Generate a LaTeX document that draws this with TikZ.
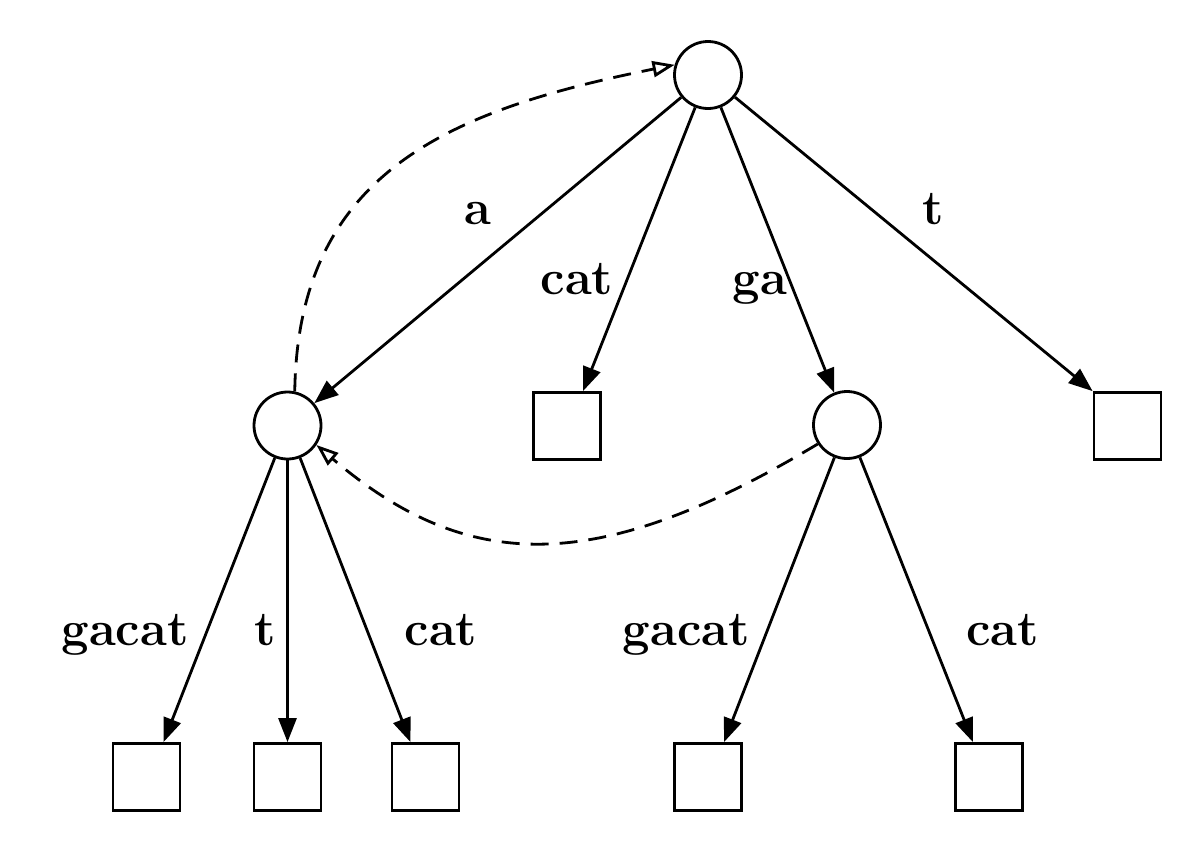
\documentclass[tikz,border=0pt]{standalone}
\usetikzlibrary{arrows.meta,calc}
\begin{document}
\begin{tikzpicture}[x=1pt,y=-1pt,
  inner/.style={circle,draw,line width=2.8pt,minimum size=67pt,inner sep=0pt},
  leaf/.style={rectangle,draw,line width=2.8pt,minimum size=67pt,inner sep=0pt},
  edge/.style={line width=2.8pt,-{Triangle[length=24pt,width=18pt]}},
  link/.style={line width=2.8pt,dash pattern=on 18pt off 11pt,-{Triangle[open,length=22pt,width=16pt]}},
  lbl/.style={anchor=base,inner sep=0pt,font=\fontsize{49}{54}\selectfont\bfseries}]
\useasboundingbox (0,0) rectangle (1200,849);
\fill[white] (0,0) rectangle (1200,849);
% nodes
\node[inner] (root) at (708,75) {};
\node[inner] (lc) at (287.5,425.5) {};
\node[inner] (mc) at (847,425) {};
\node[leaf] (sqcat) at (567,426) {};
\node[leaf] (sqt) at (1127.5,426) {};
\node[leaf] (b1) at (146.5,777) {};
\node[leaf] (b2) at (287.5,777) {};
\node[leaf] (b3) at (425.5,777) {};
\node[leaf] (b4) at (708,777) {};
\node[leaf] (b5) at (989,777) {};
% edges
\draw[edge] (root) -- (lc);
\draw[edge] (root) -- ($(sqcat.north)+(16,0)$);
\draw[edge] (root) -- (mc);
\draw[edge] (root) -- (sqt.north west);
\draw[edge] (lc) -- ($(b1.north)+(17,0)$);
\draw[edge] (lc) -- (b2.north);
\draw[edge] (lc) -- ($(b3.north)+(-15,0)$);
\draw[edge] (mc) -- ($(b4.north)+(16,0)$);
\draw[edge] (mc) -- ($(b5.north)+(-16,0)$);
% suffix links
\draw[link] (lc.78) .. controls (298,172) and (450,110) .. (root.163);
\draw[link] (mc.213) .. controls (599,575) and (469,575) .. (lc.-34);
% labels
\node[lbl] (la) at (478,224) {a};
\node[lbl] (lcat) at (577,294) {cat};
\node[lbl] (lga) at (760,294) {ga};
\node[lbl] (lt) at (933,224) {t};
\node[lbl] (lgacat1) at (125,645) {gacat};
\node[lbl] (lt2) at (265,645) {t};
\node[lbl] (lcat2) at (441,645) {cat};
\node[lbl] (lgacat2) at (686.5,645) {gacat};
\node[lbl] (lcat3) at (1002.5,645) {cat};
\end{tikzpicture}
\end{document}
